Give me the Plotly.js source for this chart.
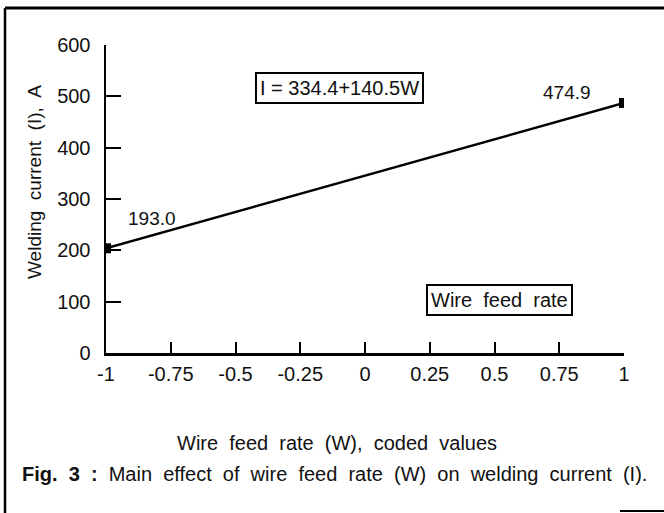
<!DOCTYPE html>
<html>
<head>
<meta charset="utf-8">
<script src="https://cdn.plot.ly/plotly-3.0.1.min.js"></script>
<style>html,body{margin:0;padding:0;background:#fff;}#chart{width:664px;height:513px;}</style>
</head>
<body>
<div id="chart"></div>
<script>
// ---- data ----
const wireFeedCoded = [-1, 1];
const weldingCurrent = [204, 487];
const pointLabels = ['193.0', '474.9'];
const xTickValues = [-1, -0.75, -0.5, -0.25, 0, 0.25, 0.5, 0.75, 1];
const xTickText = ['-1', '-0.75', '-0.5', '-0.25', '0', '0.25', '0.5', '0.75', '1'];
const yTickValues = [0, 100, 200, 300, 400, 500, 600];
const equationText = 'I = 334.4+140.5W';
const factorText = 'Wire&nbsp; feed&nbsp; rate';
const xTitle = 'Wire&nbsp; feed&nbsp; rate&nbsp; (W),&nbsp; coded&nbsp; values';
const yTitle = 'Welding&nbsp; current&nbsp; (I),&nbsp; A';
const captionText = '<b>Fig.&nbsp; 3&nbsp; :</b>&nbsp; Main&nbsp; effect&nbsp; of&nbsp; wire&nbsp; feed&nbsp; rate&nbsp; (W)&nbsp; on&nbsp; welding&nbsp; current&nbsp; (I).';

// ---- layout geometry (pixels) ----
const W = 664, H = 513;
const L = 106, R = 624, T = 45, B = 353;
const px = x => (x - L) / (R - L);
const py = y => (B - y) / (B - T);
const FONT = '"Liberation Sans", Arial, sans-serif';
const FS = 20;

const trace = {
  x: wireFeedCoded,
  y: weldingCurrent,
  mode: 'lines+markers',
  line: {color: '#000', width: 2.5},
  marker: {symbol: 'square', size: 10, color: '#000'},
  hoverinfo: 'skip',
  showlegend: false
};

const layout = {
  width: W, height: H,
  margin: {l: L, r: W - R, t: T, b: H - B},
  paper_bgcolor: '#fff', plot_bgcolor: '#fff',
  font: {family: FONT, color: '#111', size: 19},
  xaxis: {
    range: [-1, 1], tickmode: 'array', tickvals: xTickValues, ticktext: xTickText,
    ticks: '', showgrid: false, zeroline: false, showline: true, linecolor: '#000', linewidth: 2.5,
    ticklabelstandoff: 1, tickfont: {size: FS, family: FONT, color: '#111'},
    minor: {tickmode: 'array', tickvals: [-0.75, -0.5, -0.25, 0, 0.25, 0.5, 0.75], ticks: 'inside', ticklen: 11, tickwidth: 2, tickcolor: '#000', showgrid: false}
  },
  yaxis: {
    range: [0, 600], tickmode: 'array', tickvals: yTickValues,
    ticks: 'inside', ticklen: 15, tickwidth: 2, tickcolor: '#000',
    showgrid: false, zeroline: false, showline: true, linecolor: '#000', linewidth: 2.5,
    ticklabelstandoff: 9, tickfont: {size: FS, family: FONT, color: '#111'}
  },
  annotations: [
    {xref: 'x', yref: 'y', x: wireFeedCoded[0], y: weldingCurrent[0], text: pointLabels[0], showarrow: false, xanchor: 'center', yanchor: 'middle', xshift: 46, yshift: 30},
    {xref: 'x', yref: 'y', x: wireFeedCoded[1], y: weldingCurrent[1], text: pointLabels[1], showarrow: false, xanchor: 'center', yanchor: 'middle', xshift: -57, yshift: 11},
    {xref: 'paper', yref: 'paper', x: px(339), y: py(88), text: equationText, showarrow: false, xanchor: 'center', yanchor: 'middle', bordercolor: '#000', borderwidth: 2, borderpad: 3, bgcolor: '#fff', font: {size: 20}},
    {xref: 'paper', yref: 'paper', x: px(499), y: py(300), text: factorText, showarrow: false, xanchor: 'center', yanchor: 'middle', bordercolor: '#000', borderwidth: 2, borderpad: 3, bgcolor: '#fff', font: {size: 20}},
    {xref: 'paper', yref: 'paper', x: px(337), y: py(443), text: xTitle, showarrow: false, xanchor: 'center', yanchor: 'middle', font: {size: 20}},
    {xref: 'paper', yref: 'paper', x: px(334), y: py(474), text: captionText, showarrow: false, xanchor: 'center', yanchor: 'middle', font: {size: 20}},
    {xref: 'paper', yref: 'paper', x: px(34), y: py(182), text: yTitle, showarrow: false, textangle: -90, xanchor: 'center', yanchor: 'middle'}
  ],
  shapes: [
    {type: 'line', xref: 'paper', yref: 'paper', x0: px(5), x1: px(664), y0: py(8), y1: py(8), line: {color: '#000', width: 3}},
    {type: 'line', xref: 'paper', yref: 'paper', x0: px(5), x1: px(5), y0: py(8), y1: py(513), line: {color: '#000', width: 2.5}},
    {type: 'line', xref: 'paper', yref: 'paper', x0: px(620), x1: px(664), y0: py(511), y1: py(511), line: {color: '#000', width: 2}}
  ]
};

Plotly.newPlot('chart', [trace], layout, {staticPlot: true, displayModeBar: false});
</script>
</body>
</html>
